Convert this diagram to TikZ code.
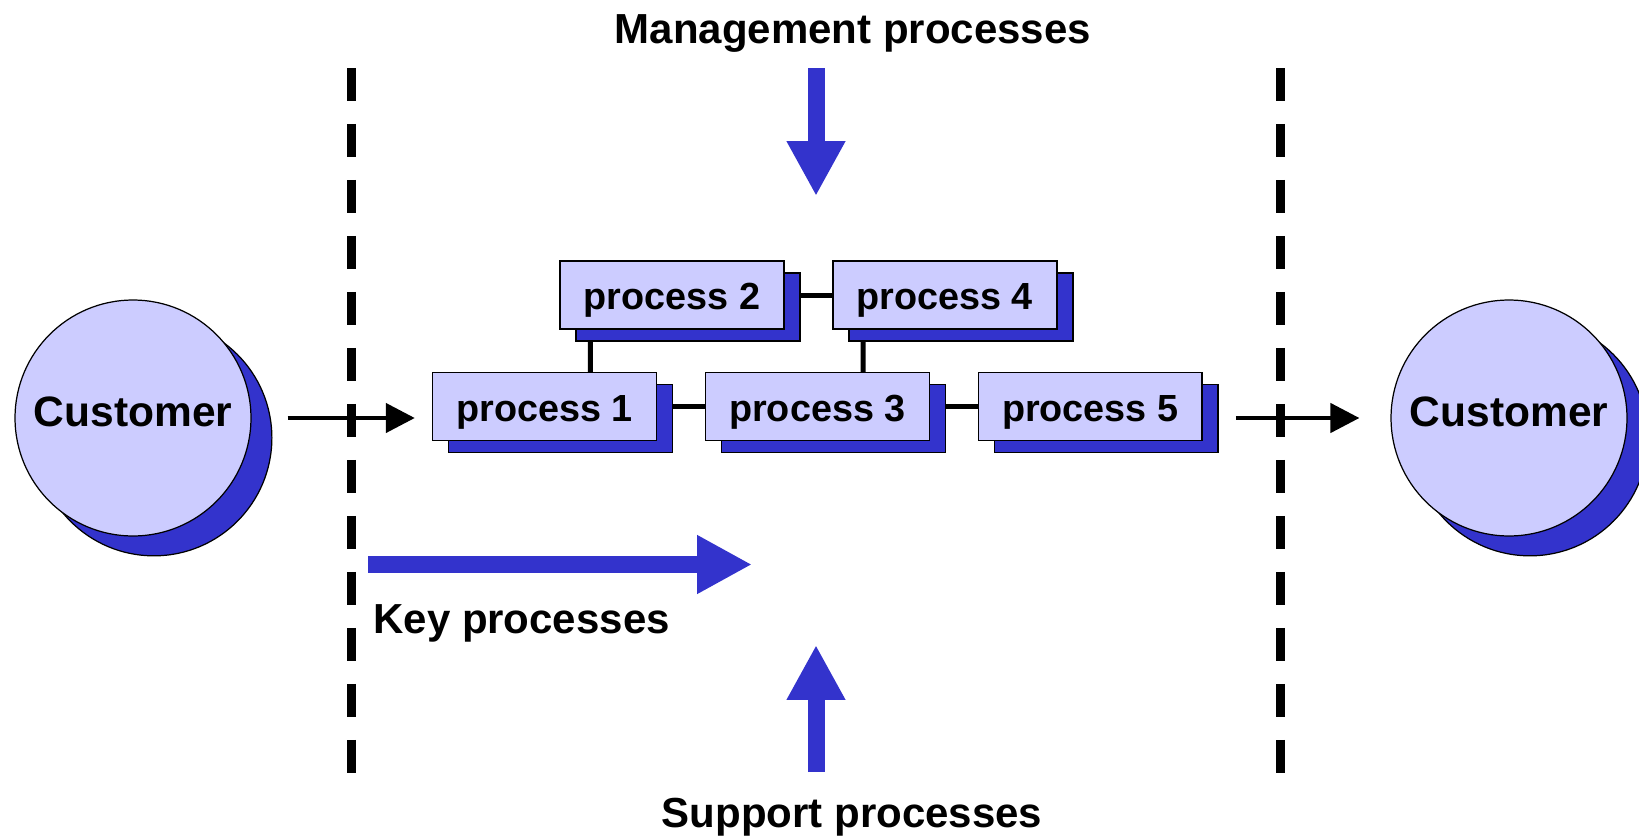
\documentclass[tikz,border=0pt]{standalone}
\usepackage{fontspec}
\setmainfont{Liberation Sans}
\usetikzlibrary{positioning,shadows,backgrounds,arrows.meta}

\definecolor{procfill}{RGB}{204,204,255}
\definecolor{procblue}{RGB}{51,51,204}

\tikzset{
  process/.style={draw=black, line width=0.8pt, fill=procfill, minimum width=4.48cm, minimum height=1.36cm,
    inner sep=0pt, font=\fontsize{21.5}{26}\selectfont\bfseries, text height=17pt, text depth=0pt,
    drop shadow={shadow xshift=9.1pt, shadow yshift=-6.8pt, fill=procblue, draw=black, opacity=1}},
  customer/.style={circle, draw=black, line width=0.7pt, fill=procfill, minimum size=4.72cm, inner sep=0pt,
    font=\fontsize{24.2}{28}\selectfont\bfseries, text depth=7.2pt,
    drop shadow={shadow xshift=11.9pt, shadow yshift=-11.3pt, fill=procblue, draw=black, opacity=1}},
  heading/.style={inner sep=0pt, font=\fontsize{23.9}{28}\selectfont\bfseries},
  link/.style={line width=0.1cm},
  flow/.style={line width=0.09cm, -{Triangle[length=0.58cm, width=0.58cm]}},
  bigarrow/.style={procblue, line width=0.34cm, -{Triangle[length=1.1cm, width=1.1cm]}},
  boundary/.style={line width=0.18cm, dash pattern=on 0.66cm off 0.46cm}
}

\begin{document}
\begin{tikzpicture}[x=0.02cm, y=-0.02cm]
    \useasboundingbox (0,0) rectangle (1639,835);

    % Nodes
    \node[customer] (custin) at (133,418) {Customer};
    \node[customer] (custout) at (1509,418) {Customer};

    \node[process] (p1) at (544.5,406.5) {process 1};
    \node[process] (p2) at (672,295) {process 2};
    \node[process, right=0.95cm of p1] (p3) {process 3};
    \node[process, right=0.95cm of p2] (p4) {process 4};
    \node[process, right=0.95cm of p3] (p5) {process 5};

    \node[heading, anchor=base] (mgmt) at (853,43) {Management processes};
    \node[heading, anchor=base west] (key) at (373,633) {Key processes};
    \node[heading, anchor=base] (support) at (852,827) {Support processes};

    % Links between the processes
    \begin{scope}[on background layer]
        \draw[link] (p1) -- (p3);
        \draw[link] (p3) -- (p5);
        \draw[link] (p2) -- (p4);
        \draw[link] ([xshift=3.17cm]p1.north west) -- ([xshift=0.62cm]p2.south west);
        \draw[link] ([xshift=3.17cm]p3.north west) -- ([xshift=0.62cm]p4.south west);
    \end{scope}

    % Boundaries
    \draw[boundary] (351,68) -- (351,773);
    \draw[boundary] (1280.5,68) -- (1280.5,773);

    % Arrows
    \draw[flow, shorten <=0.72cm, shorten >=0.34cm] (custin.east) -- (p1.west |- custin.east);
    \draw[flow, shorten <=0.66cm, shorten >=0.62cm] (p5.east |- custout.west) -- (custout.west);

    \coordinate (mgmttop) at (816,68);
    \coordinate (mgmttip) at (816,196);
    \coordinate (supportfoot) at (816,772);
    \coordinate (supporttip) at (816,645);
    \coordinate (keystart) at (368,564.5);
    \coordinate (keytip) at (752,564.5);
    \draw[bigarrow] (mgmttop) -- (mgmttip);
    \draw[bigarrow] (supportfoot) -- (supporttip);
    \draw[bigarrow] (keystart) -- (keytip);
\end{tikzpicture}
\end{document}
